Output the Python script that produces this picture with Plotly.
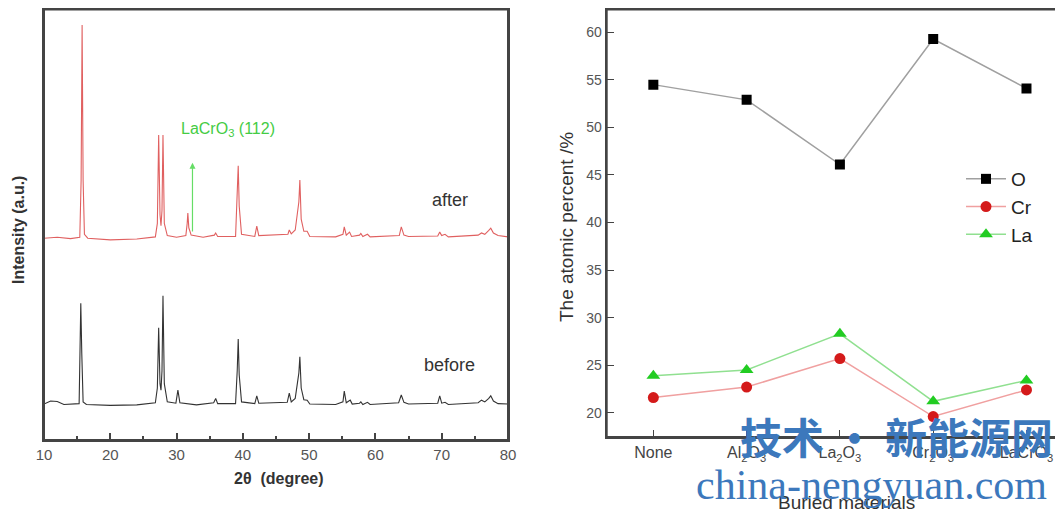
import plotly.graph_objects as go

# ---------------- Left panel: XRD patterns (vertices) ----------------
after_x = [10, 12, 14, 15.4, 15.6, 15.75, 15.9, 16.1, 16.6, 20, 24, 26.8, 27.1, 27.3, 27.5, 27.65,
           27.8, 27.95, 28.15, 28.6, 30, 31.4, 31.6, 31.7, 31.85, 32.2, 34, 35.7, 35.9, 36.2,
           38.9, 39.15, 39.3, 39.45, 39.8, 41.8, 42.1, 42.4, 46.8, 47.0, 47.3, 47.9, 48.3, 48.45,
           48.6, 48.8, 49.2, 49.7, 50.1, 54, 55.1, 55.3, 55.6, 56.1, 56.4, 57.6, 57.8, 58.1, 58.8,
           59.2, 63.6, 63.9, 64.3, 65, 69.4, 69.7, 70.0, 70.5, 71, 75.5, 76.0, 76.5, 77.1, 77.4,
           77.8, 78.5, 80]
after_y = [46.6, 46.8, 46.5, 46.8, 60, 95.8, 60, 47.5, 46.6, 46.2, 46.4, 46.9, 50, 70.4, 52, 49.5,
           53, 70.4, 50, 47.2, 46.8, 47.2, 50, 52.4, 49, 47.3, 46.8, 47.3, 47.8, 47,
           47, 55, 63.3, 54, 47.5, 47, 49.4, 47.2, 47.5, 48.5, 47.6, 48.5, 53.8, 55,
           60, 51, 48.2, 48.2, 47.0, 46.9, 47.5, 49.2, 47.3, 48.0, 47, 47.3, 47.7, 47, 47.5,
           46.9, 47.2, 49.2, 47.3, 47, 47.1, 48.0, 47.2, 47.5, 46.9, 47.3, 47.8, 47.5, 48.4, 48.9,
           47.8, 47.2, 46.9]

before_x = [10, 11, 12, 13, 15.3, 15.45, 15.55, 15.7, 15.9, 16.4, 20, 24, 26.8, 27.1, 27.3, 27.5,
            27.65, 27.8, 27.95, 28.15, 28.6, 29.9, 30.2, 30.5, 33, 35.6, 35.9, 36.2, 38.9, 39.15,
            39.3, 39.45, 39.8, 41.8, 42.1, 42.4, 46.7, 47.0, 47.3, 47.9, 48.25, 48.45, 48.6, 48.8,
            49.2, 49.7, 50.1, 54, 55.1, 55.3, 55.6, 56.2, 56.5, 57.6, 57.8, 58.1, 58.8, 59.2, 63.5,
            63.9, 64.3, 65, 69.4, 69.7, 70.0, 70.5, 71, 75.5, 76.0, 76.5, 77.1, 77.4, 77.8, 78.5, 80]
before_y = [8.3, 9.0, 8.9, 8.2, 8.4, 20, 31.6, 20, 8.8, 8.2, 8.0, 8.1, 8.6, 12, 25.9, 13, 11.5, 16,
            33.3, 13, 8.8, 8.5, 11.5, 8.6, 8.1, 8.6, 9.6, 8.4, 8.4, 16, 23.3, 15, 8.8, 8.4, 10.2,
            8.5, 8.7, 10.8, 8.8, 9.6, 13.5, 15.5, 19.2, 12, 9.3, 9.2, 8.3, 8.2, 8.8, 11.3, 8.6, 9.2,
            8.3, 8.5, 8.8, 8.2, 8.7, 8.2, 8.6, 10.4, 8.7, 8.3, 8.5, 10.2, 8.5, 8.7, 8.2, 8.6, 9.2,
            8.8, 9.6, 10.2, 9.0, 8.4, 8.3]

xrd_ticks = [10, 20, 30, 40, 50, 60, 70, 80]

# ---------------- Right panel: atomic percent ----------------
materials = ["None", "Al<sub>2</sub>O<sub>3</sub>", "La<sub>2</sub>O<sub>3</sub>",
             "Cr<sub>2</sub>O<sub>3</sub>", "LaCrO<sub>3</sub>"]
pos = [0, 1, 2, 3, 4]
O_vals = [54.5, 52.9, 46.1, 59.3, 54.1]
Cr_vals = [21.6, 22.7, 25.7, 19.6, 22.4]
La_vals = [23.9, 24.5, 28.3, 21.2, 23.4]
pct_ticks = [20, 25, 30, 35, 40, 45, 50, 55, 60]

# The page body adds an 8 px offset; the figure is sized so it fills the window.
W, H, OFF = 1055, 508, 8


def px(xp):
    return (xp - OFF) / W


def py(yp):
    return 1 - (yp - OFF) / H


TOP = py(9.5)  # keep the top frame line inside the drawing

fig = go.Figure()

fig.add_trace(go.Scatter(x=after_x, y=after_y, mode="lines",
                         line=dict(color="#e06060", width=1.1), showlegend=False,
                         xaxis="x", yaxis="y"))
fig.add_trace(go.Scatter(x=before_x, y=before_y, mode="lines",
                         line=dict(color="#333333", width=1.1), showlegend=False,
                         xaxis="x", yaxis="y"))

fig.add_trace(go.Scatter(x=pos, y=O_vals, name="O", mode="lines+markers",
                         line=dict(color="#a0a0a0", width=1.5),
                         marker=dict(symbol="square", size=10, color="#000000"),
                         xaxis="x2", yaxis="y2"))
fig.add_trace(go.Scatter(x=pos, y=Cr_vals, name="Cr", mode="lines+markers",
                         line=dict(color="#f0a0a0", width=1.5),
                         marker=dict(symbol="circle", size=11, color="#d41a1a"),
                         xaxis="x2", yaxis="y2"))
fig.add_trace(go.Scatter(x=pos, y=La_vals, name="La", mode="lines+markers",
                         line=dict(color="#90e090", width=1.5),
                         marker=dict(symbol="triangle-up", size=12, color="#22cc22"),
                         xaxis="x2", yaxis="y2"))

axis_common = dict(showline=True, linecolor="#444444", linewidth=2, mirror=True,
                   showgrid=False, zeroline=False, automargin=False)

fig.update_layout(
    width=W, height=H,
    margin=dict(l=0, r=0, t=0, b=0, pad=0, autoexpand=False),
    paper_bgcolor="white", plot_bgcolor="white",
    xaxis=dict(domain=[px(44), px(508)], range=[10, 80], tickvals=xrd_ticks,
               ticks="inside", ticklen=7, tickcolor="#444444", tickwidth=1.5,
               minor=dict(ticks="inside", dtick=5, ticklen=4, tickcolor="#444444"),
               tickfont=dict(family="Liberation Sans, Arial", size=15, color="#555555"),
               anchor="y", **axis_common),
    yaxis=dict(domain=[py(440), TOP], range=[0, 99.4], showticklabels=False, ticks="",
               anchor="x", **axis_common),
    xaxis2=dict(domain=[px(606.7), px(1061)], range=[-0.5, 4.37], tickvals=pos, ticktext=materials,
                ticks="inside", ticklen=7, tickcolor="#444444",
                tickfont=dict(family="Liberation Sans, Arial", size=16, color="#444444"),
                anchor="y2", **axis_common),
    yaxis2=dict(domain=[py(437), TOP], range=[17.45, 62.4], tickvals=pct_ticks,
                ticks="inside", ticklen=7, tickcolor="#444444",
                tickfont=dict(family="Liberation Sans, Arial", size=14, color="#555555"),
                anchor="x2", **axis_common),
    legend=dict(x=px(961), y=py(160), xanchor="left", yanchor="top", bgcolor="rgba(0,0,0,0)",
                font=dict(family="Liberation Sans, Arial", size=19, color="#222222"),
                tracegroupgap=0, itemwidth=40),
    font=dict(family="Liberation Sans, Arial"),
)

# frames around both panels
fig.add_shape(type="rect", xref="x domain", yref="y domain", x0=0, x1=1, y0=0, y1=1,
              line=dict(color="#444444", width=2), layer="above")
fig.add_shape(type="rect", xref="x2 domain", yref="y2 domain", x0=0, x1=1, y0=0, y1=1,
              line=dict(color="#444444", width=2), layer="above")

ann = []
C = dict(xanchor="center", yanchor="middle", showarrow=False)
# axis titles
ann.append(dict(text="<b>2θ  (degree)</b>", xref="paper", yref="paper", x=px(279), y=py(478),
                font=dict(size=16, color="#333333"), **C))
ann.append(dict(text="<b>Intensity (a.u.)</b>", xref="paper", yref="paper", x=px(18), y=py(230),
                textangle=-90, font=dict(size=16, color="#333333"), **C))
ann.append(dict(text="Buried materials", xref="paper", yref="paper", x=px(846), y=py(502),
                font=dict(size=19, color="#333333"), **C))
ann.append(dict(text="The atomic percent /%", xref="paper", yref="paper", x=px(566), y=py(227),
                textangle=-90, font=dict(size=19, color="#333333"), **C))
# sample labels
ann.append(dict(text="after", x=71.2, y=55.4, xref="x", yref="y",
                font=dict(size=18, color="#333333"), **C))
ann.append(dict(text="before", x=71.1, y=17.3, xref="x", yref="y",
                font=dict(size=18, color="#333333"), **C))
# LaCrO3 marker arrow
ann.append(dict(x=32.4, y=64, ax=32.4, ay=47.8, xref="x", yref="y", axref="x", ayref="y",
                text="", showarrow=True, arrowhead=2, arrowsize=1, arrowwidth=1.2,
                arrowcolor="#66dd66"))
ann.append(dict(text="LaCrO<sub>3</sub> (112)", x=37.8, y=71.6, xref="x", yref="y",
                font=dict(size=16, color="#44cc44"), **C))
# watermark
ann.append(dict(text="<b>技术 · 新能源网</b>", xref="paper", yref="paper", x=px(896), y=py(435),
                font=dict(family="Noto Sans CJK SC", size=42, color="#3c78bc"), **C))
ann.append(dict(text="china-nengyuan.com", xref="paper", yref="paper", x=px(871), y=py(485),
                font=dict(family="Liberation Serif", size=42, color="#3c78bc"), **C))

fig.update_layout(annotations=ann)

fig.write_html("out.html")
